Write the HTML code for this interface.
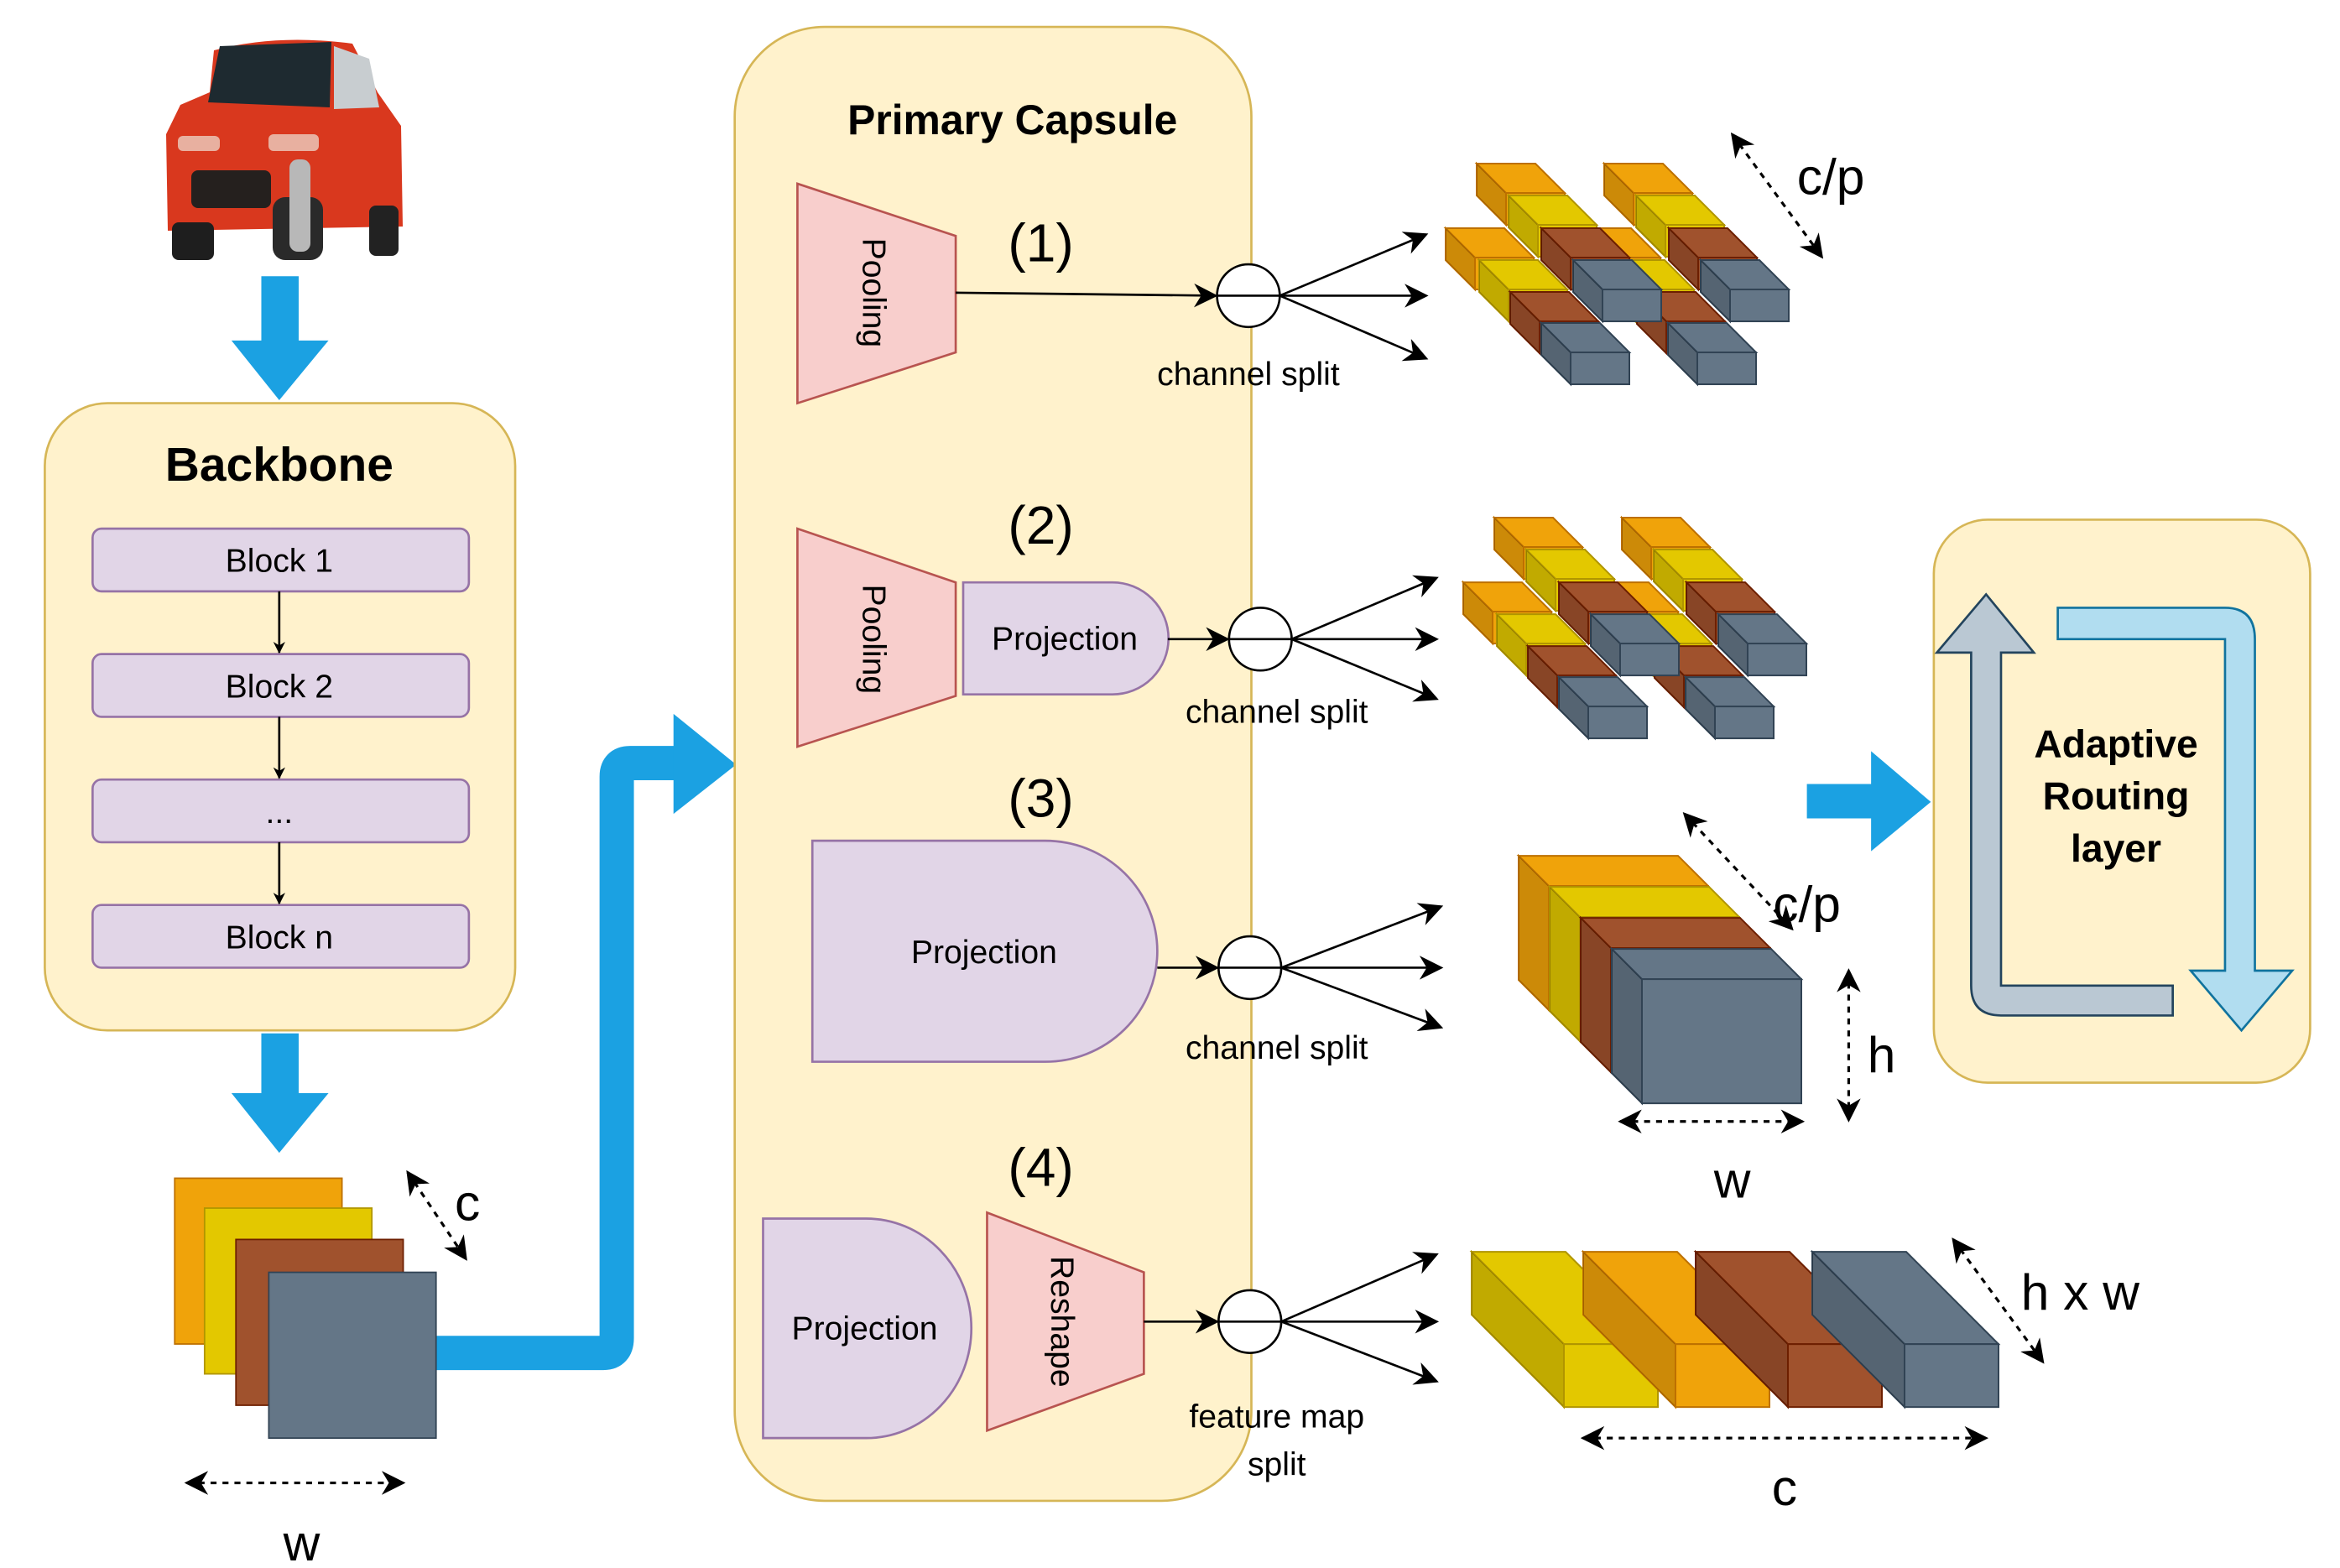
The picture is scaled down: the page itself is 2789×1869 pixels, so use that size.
<!DOCTYPE html>
<html><head><meta charset="utf-8"><style>
html,body{margin:0;padding:0;background:#fff;}
svg{display:block;}
text{font-family:"Liberation Sans",Arial,sans-serif;}
</style></head><body>
<svg width="2789" height="1869" viewBox="0 0 1567 1050" preserveAspectRatio="none" xmlns="http://www.w3.org/2000/svg">
<defs>
<marker id="ah" viewBox="0 0 10 10" refX="9" refY="5" markerWidth="8" markerHeight="8" orient="auto-start-reverse" markerUnits="userSpaceOnUse"><path d="M0,0 L10,5 L0,10 L3,5 z" fill="#000"/></marker>
<marker id="ah2" viewBox="0 0 10 10" refX="9" refY="5" markerWidth="16" markerHeight="16" orient="auto-start-reverse" markerUnits="userSpaceOnUse"><path d="M0,0 L10,5 L0,10 L3,5 z" fill="#000"/></marker>
<g id="bar1">
 <polygon points="-35,-35 35,-35 70,0 0,0" fill="currentColor"/>
 <polygon points="-35,-35 0,0 0,38 -35,3" fill="currentColor"/>
 <polygon points="-35,-35 0,0 0,38 -35,3" fill="#000" fill-opacity="0.15" stroke="none"/>
 <rect x="0" y="0" width="70" height="38" fill="currentColor"/>
</g>
<g id="slab">
 <polygon points="-36,-36 154,-36 190,0 0,0" fill="currentColor"/>
 <polygon points="-36,-36 0,0 0,148 -36,112" fill="currentColor"/>
 <polygon points="-36,-36 0,0 0,148 -36,112" fill="#000" fill-opacity="0.15" stroke="none"/>
 <rect x="0" y="0" width="190" height="148" fill="currentColor"/>
</g>
<g id="bar4">
 <polygon points="-110,-110 2,-110 112,0 0,0" fill="currentColor"/>
 <polygon points="-110,-110 0,0 0,75 -110,-35" fill="currentColor"/>
 <polygon points="-110,-110 0,0 0,75 -110,-35" fill="#000" fill-opacity="0.15" stroke="none"/>
 <rect x="0" y="0" width="112" height="75" fill="currentColor"/>
</g>
<g id="grp">
 <use href="#bar1" x="1758" y="307" color="#f0a30a" stroke="#bd7000"/>
 <use href="#bar1" x="1798" y="345" color="#e3c800" stroke="#b09500"/>
 <use href="#bar1" x="1835" y="383" color="#a0522d" stroke="#6d1f00"/>
 <use href="#bar1" x="1872" y="420" color="#647687" stroke="#314354"/>
 <use href="#bar1" x="1909" y="307" color="#f0a30a" stroke="#bd7000"/>
 <use href="#bar1" x="1949" y="345" color="#e3c800" stroke="#b09500"/>
 <use href="#bar1" x="1986" y="383" color="#a0522d" stroke="#6d1f00"/>
 <use href="#bar1" x="2023" y="420" color="#647687" stroke="#314354"/>
 <use href="#bar1" x="1795" y="230" color="#f0a30a" stroke="#bd7000"/>
 <use href="#bar1" x="1833" y="268" color="#e3c800" stroke="#b09500"/>
 <use href="#bar1" x="1872" y="307" color="#a0522d" stroke="#6d1f00"/>
 <use href="#bar1" x="1910" y="345" color="#647687" stroke="#314354"/>
 <use href="#bar1" x="1947" y="230" color="#f0a30a" stroke="#bd7000"/>
 <use href="#bar1" x="1985" y="268" color="#e3c800" stroke="#b09500"/>
 <use href="#bar1" x="2024" y="307" color="#a0522d" stroke="#6d1f00"/>
 <use href="#bar1" x="2062" y="345" color="#647687" stroke="#314354"/>
</g>
</defs>

<g transform="scale(0.56185)" stroke-width="2">
 <g stroke="none">
  <path d="M255,60 Q330,40 420,52 L450,110 L478,150 L480,270 L200,275 L198,160 L215,125 L250,110 Z" fill="#d9381e"/>
  <path d="M262,55 L395,50 L393,128 L248,122 Z" fill="#1e2a30"/>
  <path d="M398,55 L440,70 L452,128 L398,130 Z" fill="#c8cdd0"/>
  <rect x="228" y="203" width="95" height="45" rx="8" fill="#25201e"/>
  <rect x="205" y="265" width="50" height="45" rx="8" fill="#1e1e1e"/>
  <rect x="325" y="235" width="60" height="75" rx="15" fill="#2a2a2a"/>
  <rect x="345" y="190" width="25" height="110" rx="10" fill="#b8b8b8"/>
  <rect x="440" y="245" width="35" height="60" rx="8" fill="#222"/>
  <rect x="212" y="162" width="50" height="18" rx="6" fill="#e8b0a0"/>
  <rect x="320" y="160" width="60" height="20" rx="6" fill="#e8b0a0"/>
 </g>
 <use href="#grp"/>
 <use href="#grp" x="21" y="422"/>
 <use href="#slab" x="1846" y="1056" color="#f0a30a" stroke="#bd7000"/>
 <use href="#slab" x="1883" y="1093" color="#e3c800" stroke="#b09500"/>
 <use href="#slab" x="1920" y="1130" color="#a0522d" stroke="#6d1f00"/>
 <use href="#slab" x="1957" y="1167" color="#647687" stroke="#314354"/>
 <use href="#bar4" x="1864" y="1602" color="#e3c800" stroke="#b09500"/>
 <use href="#bar4" x="1997" y="1602" color="#f0a30a" stroke="#bd7000"/>
 <use href="#bar4" x="2131" y="1602" color="#a0522d" stroke="#6d1f00"/>
 <use href="#bar4" x="2270" y="1602" color="#647687" stroke="#314354"/>
</g>

<polygon points="175,185 200,185 200,228 220,228 187,268 155,228 175,228" fill="#1ba1e2"/>
<polygon points="175,692 200,692 200,732 220,732 187,772 155,732 175,732" fill="#1ba1e2"/>
<path d="M292,906 L404,906 Q413,906 413,896 L413,520 Q413,511 422,511 L452,511" fill="none" stroke="#1ba1e2" stroke-width="23"/>
<polygon points="451,478 451,545 493,512" fill="#1ba1e2"/>
<polygon points="1210,525 1253,525 1253,503 1293,537 1253,570 1253,548 1210,548" fill="#1ba1e2"/>

<rect x="30" y="270" width="315" height="420" rx="42" fill="#fff2cc" stroke="#d6b656" stroke-width="1.5"/>
<text x="187" y="322" font-size="32" font-weight="bold" text-anchor="middle">Backbone</text>
<g fill="#e1d5e7" stroke="#9673a6" stroke-width="1.5">
 <rect x="62" y="354" width="252" height="42" rx="6"/>
 <rect x="62" y="438" width="252" height="42" rx="6"/>
 <rect x="62" y="522" width="252" height="42" rx="6"/>
 <rect x="62" y="606" width="252" height="42" rx="6"/>
</g>
<g font-size="22" text-anchor="middle">
 <text x="187" y="383">Block 1</text>
 <text x="187" y="467">Block 2</text>
 <text x="187" y="551">...</text>
 <text x="187" y="635">Block n</text>
</g>
<g stroke="#000" stroke-width="1.5" marker-end="url(#ah)">
 <line x1="187" y1="396" x2="187" y2="437"/>
 <line x1="187" y1="480" x2="187" y2="521"/>
 <line x1="187" y1="564" x2="187" y2="605"/>
</g>

<rect x="117" y="789" width="112" height="111" fill="#f0a30a" stroke="#bd7000"/>
<rect x="137" y="809" width="112" height="111" fill="#e3c800" stroke="#b09500"/>
<rect x="158" y="830" width="112" height="111" fill="#a0522d" stroke="#6d1f00"/>
<rect x="180" y="852" width="112" height="111" fill="#647687" stroke="#314354"/>
<g stroke="#000" stroke-width="1.8" stroke-dasharray="4,4" fill="none" marker-end="url(#ah2)" marker-start="url(#ah2)">
 <line x1="273" y1="785" x2="312" y2="843"/>
 <line x1="125" y1="993" x2="270" y2="993"/>
 <line x1="1160" y1="90" x2="1220" y2="172"/>
 <line x1="1128" y1="545" x2="1200" y2="622"/>
 <line x1="1238" y1="650" x2="1238" y2="750"/>
 <line x1="1085" y1="751" x2="1207" y2="751"/>
 <line x1="1308" y1="830" x2="1368" y2="912"/>
 <line x1="1060" y1="963" x2="1330" y2="963"/>
</g>
<g font-size="34" text-anchor="middle">
 <text x="313" y="817">c</text>
 <text x="202" y="1045">w</text>
 <text x="1226" y="130">c/p</text>
 <text x="1210" y="617">c/p</text>
 <text x="1260" y="718">h</text>
 <text x="1160" y="802">w</text>
 <text x="1393" y="877">h x w</text>
 <text x="1195" y="1008">c</text>
</g>

<rect x="492" y="18" width="346" height="987" rx="60" fill="#fff2cc" stroke="#d6b656" stroke-width="1.5"/>
<text x="678" y="90" font-size="28" font-weight="bold" text-anchor="middle">Primary Capsule</text>
<g font-size="36" text-anchor="middle">
 <text x="697" y="175">(1)</text>
 <text x="697" y="364">(2)</text>
 <text x="697" y="547">(3)</text>
 <text x="697" y="794">(4)</text>
</g>
<g fill="#f8cecc" stroke="#b85450" stroke-width="1.5">
 <polygon points="534,123 640,158 640,236 534,270"/>
 <polygon points="534,354 640,390 640,466 534,500"/>
 <polygon points="661,812 766,852 766,920 661,958"/>
</g>
<g fill="#e1d5e7" stroke="#9673a6" stroke-width="1.5">
 <path d="M645,390 L745,390 A37,37 0 0 1 745,465 L645,465 Z"/>
 <path d="M544,563 L700,563 A75,74 0 0 1 700,711 L544,711 Z"/>
 <path d="M511,816 L580,816 A70,73 0 0 1 580,963 L511,963 Z"/>
</g>
<g font-size="22" text-anchor="middle">
 <text transform="translate(578,196) rotate(90)">Pooling</text>
 <text transform="translate(578,428) rotate(90)">Pooling</text>
 <text transform="translate(704,885) rotate(90)">Reshape</text>
 <text x="713" y="435">Projection</text>
 <text x="659" y="645">Projection</text>
 <text x="579" y="897">Projection</text>
</g>
<g stroke="#000" stroke-width="1.5" fill="none">
 <line x1="640" y1="196" x2="814" y2="198" marker-end="url(#ah2)"/>
 <line x1="782" y1="428" x2="822" y2="428" marker-end="url(#ah2)"/>
 <line x1="775" y1="648" x2="815" y2="648" marker-end="url(#ah2)"/>
 <line x1="766" y1="885" x2="815" y2="885" marker-end="url(#ah2)"/>
 <circle cx="836" cy="198" r="21" fill="#fff"/>
 <line x1="815" y1="198" x2="857" y2="198"/>
 <circle cx="844" cy="428" r="21" fill="#fff"/>
 <line x1="823" y1="428" x2="865" y2="428"/>
 <circle cx="837" cy="648" r="21" fill="#fff"/>
 <line x1="816" y1="648" x2="858" y2="648"/>
 <circle cx="837" cy="885" r="21" fill="#fff"/>
 <line x1="816" y1="885" x2="858" y2="885"/>
</g>
<g stroke="#000" stroke-width="1.5" fill="none" marker-end="url(#ah2)">
 <line x1="857" y1="198" x2="955" y2="157"/>
 <line x1="857" y1="198" x2="955" y2="198"/>
 <line x1="857" y1="198" x2="955" y2="240"/>
 <line x1="865" y1="428" x2="962" y2="387"/>
 <line x1="865" y1="428" x2="962" y2="428"/>
 <line x1="865" y1="428" x2="962" y2="468"/>
 <line x1="858" y1="648" x2="965" y2="607"/>
 <line x1="858" y1="648" x2="965" y2="648"/>
 <line x1="858" y1="648" x2="965" y2="688"/>
 <line x1="858" y1="885" x2="962" y2="840"/>
 <line x1="858" y1="885" x2="962" y2="885"/>
 <line x1="858" y1="885" x2="962" y2="925"/>
</g>
<g font-size="22" text-anchor="middle">
 <text x="836" y="258">channel split</text>
 <text x="855" y="484">channel split</text>
 <text x="855" y="709">channel split</text>
 <text x="855" y="956">feature map</text>
 <text x="855" y="988">split</text>
</g>

<rect x="1295" y="348" width="252" height="377" rx="36" fill="#fff2cc" stroke="#d6b656" stroke-width="1.5"/>
<path d="M1320,437 L1297,437 L1330,398 L1362,437 L1340,437 L1340,660 L1455,660 L1455,680 L1340,680 Q1320,680 1320,660 Z" fill="#bac8d3" stroke="#23445d" stroke-width="1.5"/>
<path d="M1378,407 L1490,407 Q1510,407 1510,428 L1510,650 L1535,650 L1501,690 L1467,650 L1490,650 L1490,428 L1378,428 Z" fill="#b1ddf0" stroke="#10739e" stroke-width="1.5"/>
<g font-size="26" font-weight="bold" text-anchor="middle">
 <text x="1417" y="507">Adaptive</text>
 <text x="1417" y="542">Routing</text>
 <text x="1417" y="577">layer</text>
</g>
</svg>
</body></html>
